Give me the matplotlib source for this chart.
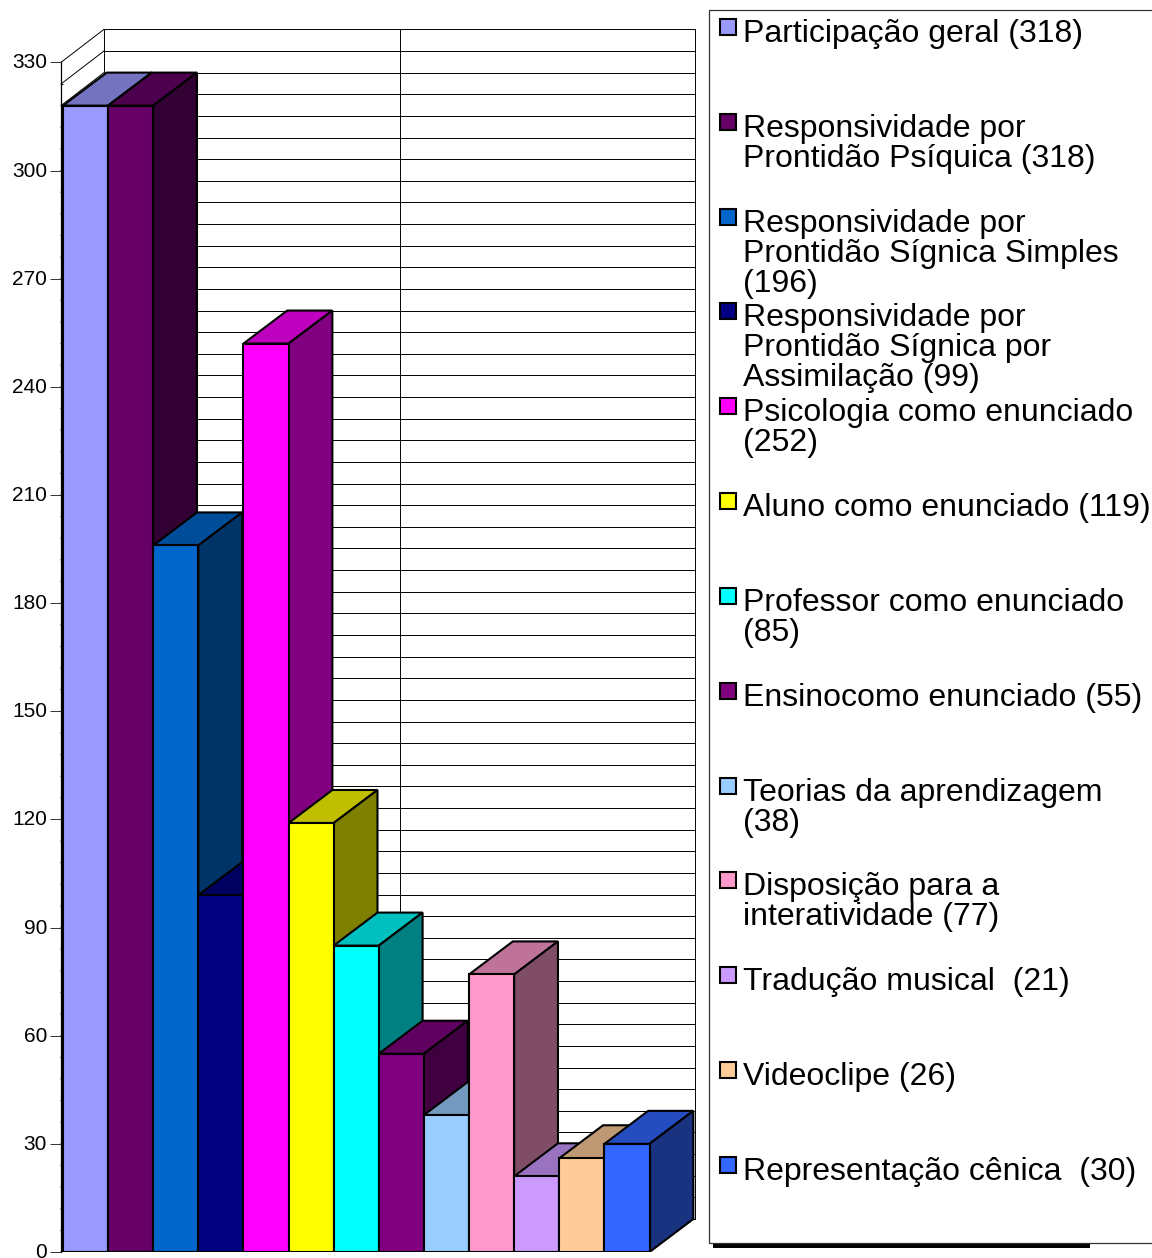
import matplotlib
matplotlib.use('Agg')
import matplotlib.pyplot as plt
from matplotlib.patches import Polygon, Rectangle
from matplotlib.ticker import FixedLocator
from matplotlib.transforms import ScaledTranslation

plt.rcParams['font.family'] = ['Liberation Sans', 'DejaVu Sans']

# ── Data ──
legend_labels = [
    "Participação geral (318)",
    "Responsividade por\nProntidão Psíquica (318)",
    "Responsividade por\nProntidão Sígnica Simples\n(196)",
    "Responsividade por\nProntidão Sígnica por\nAssimilação (99)",
    "Psicologia como enunciado\n(252)",
    "Aluno como enunciado (119)",
    "Professor como enunciado\n(85)",
    "Ensinocomo enunciado (55)",
    "Teorias da aprendizagem\n(38)",
    "Disposição para a\ninteratividade (77)",
    "Tradução musical  (21)",
    "Videoclipe (26)",
    "Representação cênica  (30)",
]
values = [318, 318, 196, 99, 252, 119, 85, 55, 38, 77, 21, 26, 30]
colors = ["#9999FF", "#660066", "#0066CC", "#000080", "#FF00FF", "#FFFF00", "#00FFFF",
          "#800080", "#99CCFF", "#FF99CC", "#CC99FF", "#FFCC99", "#3366FF"]

W, H = 1152, 1258
PX_PER_UNIT = 3.605      # vertical scale of the value axis
PX_PER_BAR = 45.12       # width of one category
DEPTH_X = 0.97           # depth offset in category units
DEPTH_Y = 33 / PX_PER_UNIT   # depth offset in value units
EDGE = 1.5               # bar outline width


def shade(color, k):
    rgb = matplotlib.colors.to_rgb(color)
    return tuple(c * k for c in rgb)


fig = plt.figure(figsize=(W / 100, H / 100), dpi=100, facecolor='white')

# ── Chart area ──
ax_l, ax_r, ax_t, ax_b = 61, 696, 29, 1252
ax = fig.add_axes([ax_l / W, 1 - ax_b / H, (ax_r - ax_l) / W, (ax_b - ax_t) / H])
x0 = -(63 - ax_l) / PX_PER_BAR
x1 = x0 + (ax_r - ax_l) / PX_PER_BAR
ax.set_xlim(x0, x1)
ax.set_ylim(0, (ax_b - ax_t) / PX_PER_UNIT)
ax.patch.set_visible(False)

for side in ['top', 'right', 'bottom']:
    ax.spines[side].set_visible(False)
ax.spines['left'].set_bounds(0, 330)
ax.spines['left'].set_linewidth(0.9)
ax.set_xticks([])
ax.set_yticks(range(0, 331, 30))
ax.yaxis.set_minor_locator(FixedLocator(range(0, 331, 6)))
ax.tick_params(axis='y', which='major', length=8, width=0.7, labelsize=15, pad=2, color='#333333')
ax.tick_params(axis='y', which='minor', direction='in', length=1.5, width=0.7)

# lift the tick labels a little so the zero stays inside the figure
lift = ScaledTranslation(0, 1.5 / 100, fig.dpi_scale_trans)
for tick_label in ax.get_yticklabels():
    tick_label.set_transform(tick_label.get_transform() + lift)

# back wall and left wall
wall_l = x0 + 43 / PX_PER_BAR
wall_r = x1 - 0.02
for v in range(0, 331, 6):
    ax.plot([wall_l, wall_r], [v + DEPTH_Y] * 2, color='black', lw=0.7, zorder=1, clip_on=False)
    ax.plot([x0, wall_l], [v, v + DEPTH_Y], color='black', lw=0.7, zorder=1, clip_on=False)
for xv in [wall_l, (wall_l + wall_r) / 2, wall_r]:
    ax.plot([xv, xv], [DEPTH_Y, 330 + DEPTH_Y], color='black', lw=0.7, zorder=1, clip_on=False)

# bars, painted left to right so each one hides the previous side face
for i, (v, c) in enumerate(zip(values, colors)):
    z = 2 + i
    ax.bar(i, v, width=1, align='edge', color=c, edgecolor='black', linewidth=EDGE, zorder=z + 0.2)
    top = [(i, v), (i + DEPTH_X, v + DEPTH_Y), (i + 1 + DEPTH_X, v + DEPTH_Y), (i + 1, v)]
    right = [(i + 1, 0), (i + 1 + DEPTH_X, DEPTH_Y), (i + 1 + DEPTH_X, v + DEPTH_Y), (i + 1, v)]
    ax.add_patch(Polygon(top, closed=True, facecolor=shade(c, 0.75), edgecolor='black', lw=EDGE, zorder=z))
    ax.add_patch(Polygon(right, closed=True, facecolor=shade(c, 0.5), edgecolor='black', lw=EDGE, zorder=z))

# ── Legend panel, laid out in pixels ──
lg = fig.add_axes([0, 0, 1, 1])
lg.set_xlim(0, W)
lg.set_ylim(H, 0)
lg.axis('off')
lg.patch.set_visible(False)

lg.add_patch(Rectangle((713, 1243), 377, 5, facecolor='black', edgecolor='none', zorder=1))
lg.add_patch(Rectangle((708.5, 9.5), 460, 1233.5, facecolor='white', edgecolor='#333333', lw=0.9, zorder=2))

for n, (label, c) in enumerate(zip(legend_labels, colors)):
    sw_top = 19 + n * 94.83
    lg.add_patch(Rectangle((720, sw_top), 16, 16, facecolor=c, edgecolor='black', lw=1.5, zorder=3))
    for k, line in enumerate(label.split('\n')):
        lg.text(743, sw_top + 23 + k * 30, line, fontsize=23, color='black', va='baseline', ha='left', zorder=4)

fig.savefig('out.png', dpi=100)
